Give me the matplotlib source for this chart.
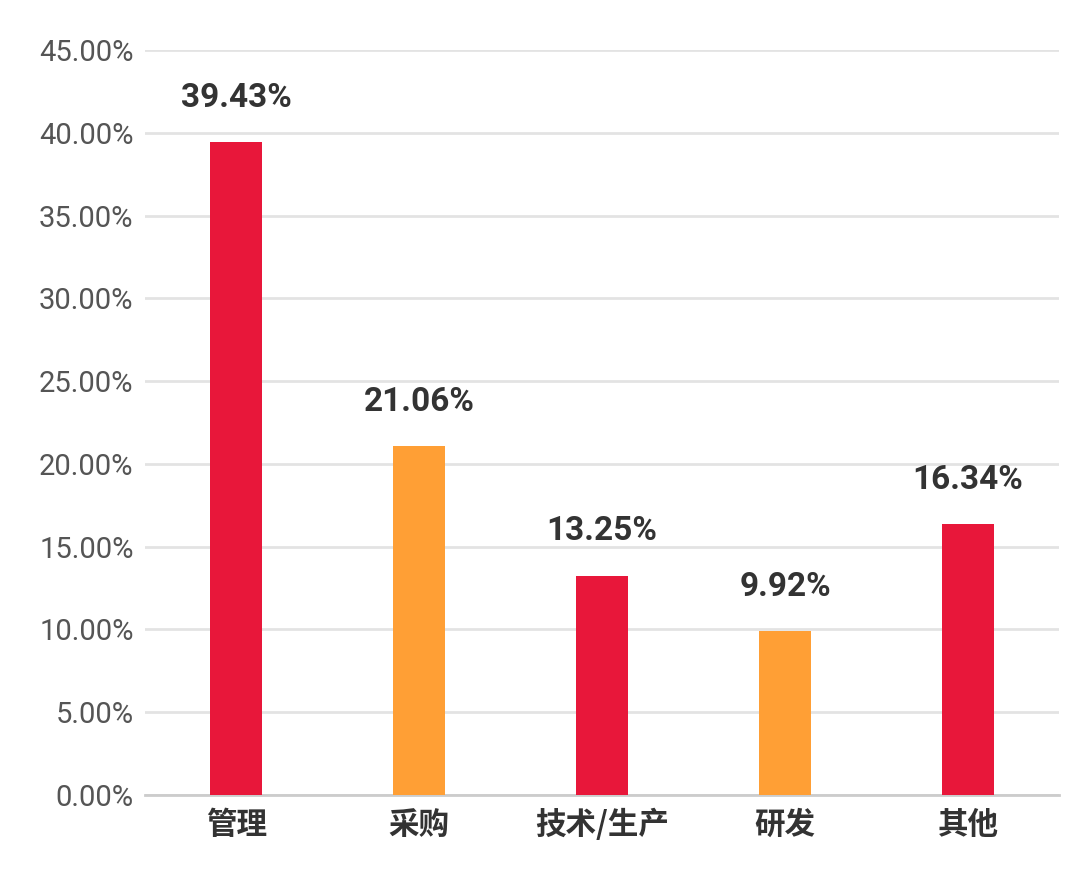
import matplotlib.pyplot as plt
from matplotlib.ticker import FuncFormatter

plt.rcParams['font.family'] = ['Roboto', 'Noto Sans CJK SC', 'DejaVu Sans']

categories = ['管理', '采购', '技术/生产', '研发', '其他']
values = [39.43, 21.06, 13.25, 9.92, 16.34]
colors = ['#E8173A', '#FF9F35', '#E8173A', '#FF9F35', '#E8173A']


def main():
    fig = plt.figure(figsize=(10.8, 8.85), dpi=100)
    ax = fig.add_axes([0.134, 0.1017, 0.847, 0.8418])

    x = range(len(categories))
    ax.bar(x, values, width=0.285, color=colors, zorder=3)
    for i, v in zip(x, values):
        ax.text(i, v + 1.7, f'{v:.2f}%', ha='center', va='bottom',
                fontsize=24, fontweight='bold', color='#333333')

    ax.set_xlim(-0.5, len(categories) - 0.5)
    ax.set_ylim(0, 45)
    ax.set_yticks([i * 5 for i in range(10)])
    ax.yaxis.set_major_formatter(FuncFormatter(lambda v, p: f'{v:.2f}%'))
    ax.set_xticks(list(x))
    ax.set_xticklabels(categories, fontsize=22, fontweight='bold', color='#333333',
                       family=['Noto Sans CJK SC', 'DejaVu Sans'])
    ax.tick_params(axis='y', labelsize=21, labelcolor='#555555', length=0, pad=8)
    ax.tick_params(axis='x', length=0, pad=10)
    ax.grid(axis='y', color='#e3e3e3', linewidth=2, zorder=0)
    for s in ['top', 'right', 'left']:
        ax.spines[s].set_visible(False)
    ax.spines['bottom'].set_color('#cccccc')
    ax.spines['bottom'].set_linewidth(2)

    fig.savefig('out.png', dpi=100)


if __name__ == "__main__":
    main()
